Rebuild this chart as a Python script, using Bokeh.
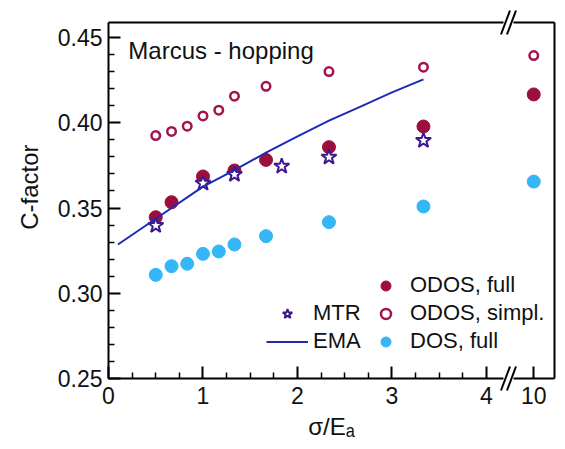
import math
from bokeh.plotting import figure
from bokeh.models import FixedTicker, Label, Legend, LegendItem
from bokeh.core.properties import value
from bokeh.embed import file_html
from bokeh.resources import INLINE

# ---------------- data (sigma/Ea, C-factor) ----------------
odos_full_x = [0.5, 0.667, 1.0, 1.333, 1.667, 2.333, 3.333, 10]
odos_full_y = [0.3446, 0.3534, 0.3685, 0.3720, 0.3782, 0.3857, 0.3978, 0.4166]

odos_simpl_x = [0.5, 0.667, 0.833, 1.0, 1.167, 1.333, 1.667, 2.333, 3.333, 10]
odos_simpl_y = [0.3925, 0.3949, 0.3980, 0.4040, 0.4074, 0.4156, 0.4214, 0.4300, 0.4326, 0.4394]

dos_full_x = [0.5, 0.667, 0.833, 1.0, 1.167, 1.333, 1.667, 2.333, 3.333, 10]
dos_full_y = [0.3108, 0.3159, 0.3173, 0.3231, 0.3245, 0.3286, 0.3335, 0.3417, 0.3509, 0.3655]

mtr_x = [0.5, 1.0, 1.333, 1.833, 2.333, 3.333]
mtr_y = [0.3397, 0.3645, 0.3697, 0.3745, 0.3798, 0.3896]

ema_x = [0.1, 0.5, 1.0, 1.333, 1.667, 2.0, 2.333, 2.667, 3.0, 3.333]
ema_y = [0.3286, 0.3437, 0.3625, 0.3722, 0.3825, 0.3920, 0.4012, 0.4095, 0.4178, 0.4254]

x_major_ticks = [0, 1, 2, 3, 4, 10]
x_tick_labels = ["0", "1", "2", "3", "4", "10"]
y_major_ticks = [0.25, 0.30, 0.35, 0.40, 0.45]
y_tick_labels = ["0.25", "0.30", "0.35", "0.40", "0.45"]


# broken x axis: values beyond the break are placed on a compressed segment
def xmap(v):
    return v if v <= 4.2 else 4.5 + (v - 10.0)


def xm(vals):
    return [xmap(v) for v in vals]


FONT = "Liberation Sans"
C_FULL = "#9c0e3e"
C_SIMPL = "#a3134f"
C_DOS = "#35b6f6"
C_MTR = "#3c1a8c"
C_EMA = "#1b2bb5"
TXT = "#111111"

X0, X1 = 0.0, 4.7196
Y0, Y1 = 0.25, 0.4588

p = figure(width=557, height=449, x_range=(X0, X1), y_range=(Y0, Y1),
           output_backend="svg", toolbar_location=None,
           min_border_left=108, min_border_right=3,
           min_border_top=22, min_border_bottom=71)
p.outline_line_color = None
p.xgrid.visible = False
p.ygrid.visible = False
p.background_fill_color = "white"
p.border_fill_color = "white"

# axes
p.xaxis.ticker = FixedTicker(ticks=xm(x_major_ticks),
                             minor_ticks=[i * 0.25 for i in range(1, 16) if i % 4])
p.xaxis.major_label_overrides = {xmap(t): lab for t, lab in zip(x_major_ticks, x_tick_labels)}
p.yaxis.ticker = FixedTicker(ticks=y_major_ticks,
                             minor_ticks=[round(0.25 + 0.01 * i, 2) for i in range(1, 21) if i % 5])
p.yaxis.major_label_overrides = {t: lab for t, lab in zip(y_major_ticks, y_tick_labels)}
for ax in (p.xaxis[0], p.yaxis[0]):
    ax.axis_line_color = None
    ax.major_tick_in = 12
    ax.major_tick_out = 0
    ax.minor_tick_in = 6
    ax.minor_tick_out = 0
    ax.major_tick_line_width = 2
    ax.minor_tick_line_width = 1.5
    ax.major_tick_line_color = "black"
    ax.minor_tick_line_color = "black"
    ax.major_label_text_font = FONT
    ax.major_label_text_font_size = "23px"
    ax.major_label_text_color = TXT
    ax.axis_label_text_font = FONT
    ax.axis_label_text_font_size = "24px"
    ax.axis_label_text_font_style = "normal"
    ax.axis_label_text_color = TXT
p.xaxis.major_label_standoff = 8
p.yaxis.major_label_standoff = 6
p.xaxis.axis_label = "σ/Eₐ"
p.xaxis.axis_label_standoff = 6
p.yaxis.axis_label = "\u00a0\u00a0\u00a0\u00a0C-factor"
p.yaxis.axis_label_standoff = 12

# data
r_dos = p.scatter(xm(dos_full_x), dos_full_y, marker="circle", size=13,
                  fill_color=C_DOS, line_color=C_DOS)
r_full = p.scatter(xm(odos_full_x), odos_full_y, marker="circle", size=13,
                   fill_color=C_FULL, line_color=C_FULL)
r_simpl = p.scatter(xm(odos_simpl_x), odos_simpl_y, marker="circle", size=8.5,
                    fill_color="white", line_color=C_SIMPL, line_width=2.5)
r_mtr = p.scatter(xm(mtr_x), mtr_y, marker="star", size=16,
                  fill_color="white", line_color=C_MTR, line_width=2)
r_ema = p.line(xm(ema_x), ema_y, line_color=C_EMA, line_width=2)

# frame with breaks
gx0 = (503 - 108) / 94.5
gx1 = (513 - 108) / 94.5
p.segment(x0=[X0, X1, X0, gx1, X0, gx1], y0=[Y0, Y0, Y0, Y0, Y1, Y1],
          x1=[X0, X1, gx0, X1, gx0, X1], y1=[Y1, Y1, Y0, Y0, Y1, Y1],
          line_color="black", line_width=2, level="overlay")
bc = (508 - 108) / 94.5
dx, hx, hy = 3 / 94.5, 4.5 / 94.5, 12 / 1705
bx0, by0, bx1, by1 = [], [], [], []
for cy in (Y0, Y1):
    for cx in (bc - dx, bc + dx):
        bx0.append(cx - hx); by0.append(cy - hy)
        bx1.append(cx + hx); by1.append(cy + hy)
p.segment(x0=bx0, y0=by0, x1=bx1, y1=by1, line_color="black", line_width=2,
          level="overlay")

# panel title
p.add_layout(Label(x=0.21, y=0.4424, text="Marcus - hopping", text_font=FONT,
                   text_font_size="24px", text_color=TXT,
                   text_baseline="alphabetic", text_align="left"))

# legends
common = dict(glyph_height=25, label_height=25, spacing=2, padding=0, margin=0,
              border_line_color=None, background_fill_alpha=0,
              label_text_font=FONT, label_text_font_size="22px",
              label_text_color=TXT)
leg_r = Legend(items=[LegendItem(label=value("ODOS, full"), renderers=[r_full]),
                      LegendItem(label=value("ODOS, simpl."), renderers=[r_simpl]),
                      LegendItem(label=value("DOS, full"), renderers=[r_dos])],
               location=(265, 24), glyph_width=25, label_standoff=12, **common)
leg_l = Legend(items=[LegendItem(label=value("MTR"), renderers=[r_mtr]),
                      LegendItem(label=value("EMA"), renderers=[r_ema])],
               location=(158, 24), glyph_width=42, label_standoff=5, **common)
p.add_layout(leg_r)
p.add_layout(leg_l)

open("out.html", "w").write(file_html(p, INLINE))
